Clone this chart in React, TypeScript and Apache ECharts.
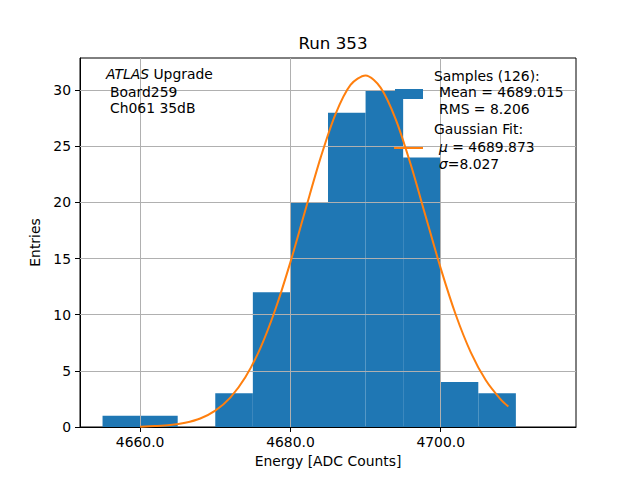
import { useEffect, useRef } from 'react';
import * as echarts from 'echarts';

// histogram bins (left edges, width 5) and entries per bin
const binEdges = [4655, 4660, 4665, 4670, 4675, 4680, 4685, 4690, 4695, 4700, 4705, 4710];
const binCounts = [1, 1, 0, 3, 12, 20, 28, 30, 24, 4, 3];

// gaussian fit curve
const fitX = [
  4660, 4662, 4664, 4666, 4668, 4670, 4672, 4674, 4676, 4678, 4680, 4682, 4684,
  4686, 4688, 4690, 4692, 4694, 4696, 4698, 4700, 4702, 4704, 4706, 4708, 4709,
];
const fitY = [
  0.03, 0.08, 0.17, 0.38, 0.76, 1.46, 2.62, 4.43, 7.03, 10.49, 14.69, 19.36, 23.95,
  27.87, 30.47, 31.31, 30.23, 27.43, 23.4, 18.75, 14.13, 10.0, 6.65, 4.16, 2.44, 1.83,
];

const xTicks = [4660, 4680, 4700];
const yTicks = [0, 5, 10, 15, 20, 25, 30];

const FONT = 'DejaVu Sans';

export default function App() {
  const chartRef = useRef<HTMLDivElement>(null);

  useEffect(() => {
    if (!chartRef.current) return;
    const chart = echarts.init(chartRef.current, null, { renderer: 'svg' });

    const bins = binCounts.map((c, i) => [binEdges[i], binEdges[i + 1], c]);

    const gridLines = [
      ...xTicks.map((v) => ({ xAxis: v })),
      ...yTicks.filter((v) => v > 0).map((v) => ({ yAxis: v })),
    ];

    const option = {
      animation: false,
      textStyle: { fontFamily: FONT },
      title: {
        text: 'Run 353',
        left: 328,
        top: 29,
        textAlign: 'center',
        textStyle: { fontFamily: FONT, fontSize: 16.7, fontWeight: 'normal', color: '#000' },
      },
      grid: {
        left: 80,
        right: 64,
        top: 58,
        bottom: 53,
        show: true,
        borderColor: '#000',
        borderWidth: 1,
        backgroundColor: 'transparent',
      },
      xAxis: {
        type: 'value',
        min: 4652,
        max: 4718,
        name: 'Energy [ADC Counts]',
        nameLocation: 'middle',
        nameGap: 27,
        nameTextStyle: { fontFamily: FONT, fontSize: 13.9, color: '#000' },
        axisLine: { show: true, lineStyle: { color: '#000', width: 1 } },
        axisTick: { show: true, length: 5, customValues: xTicks, lineStyle: { color: '#000' } },
        axisLabel: {
          customValues: xTicks,
          margin: 8,
          fontFamily: FONT,
          fontSize: 13.9,
          color: '#000',
          formatter: (v: number) => v.toFixed(1),
        },
        splitLine: { show: false },
      },
      yAxis: {
        type: 'value',
        min: 0,
        max: 32.87,
        name: 'Entries',
        nameLocation: 'middle',
        nameGap: 28,
        nameTextStyle: { fontFamily: FONT, fontSize: 13.9, color: '#000' },
        axisLine: { show: true, lineStyle: { color: '#000', width: 1 } },
        axisTick: { show: true, length: 5, customValues: yTicks, lineStyle: { color: '#000' } },
        axisLabel: {
          customValues: yTicks,
          margin: 9,
          fontFamily: FONT,
          fontSize: 13.9,
          color: '#000',
        },
        splitLine: { show: false },
      },
      series: [
        {
          name: 'Samples',
          type: 'custom',
          z: 2,
          data: bins,
          encode: { x: [0, 1], y: 2 },
          renderItem: (_params: any, api: any) => {
            const p0 = api.coord([api.value(0), api.value(2)]);
            const p1 = api.coord([api.value(1), 0]);
            return {
              type: 'rect',
              shape: { x: p0[0], y: p0[1], width: p1[0] - p0[0], height: p1[1] - p0[1] },
              style: { fill: '#1f77b4' },
            };
          },
          markLine: {
            silent: true,
            symbol: 'none',
            animation: false,
            label: { show: false },
            lineStyle: { color: '#b0b0b0', width: 1, type: 'solid' },
            emphasis: { disabled: true },
            data: gridLines,
          },
        },
        {
          name: 'Gaussian Fit',
          type: 'line',
          z: 10,
          smooth: 0.3,
          showSymbol: false,
          symbol: 'none',
          lineStyle: { color: '#ff7f0e', width: 2 },
          data: fitX.map((x, i) => [x, fitY[i]]),
        },
      ],
      graphic: [
        // upper-left annotation
        {
          type: 'text',
          left: 106,
          top: 67,
          z: 20,
          style: {
            text: '{i|ATLAS} Upgrade',
            fontFamily: FONT,
            fontSize: 13.9,
            fill: '#000',
            rich: { i: { fontStyle: 'italic', fontFamily: FONT, fontSize: 13.9 } },
          },
        },
        {
          type: 'text',
          left: 110,
          top: 85,
          z: 20,
          style: { text: 'Board259', fontFamily: FONT, fontSize: 13.9, fill: '#000' },
        },
        {
          type: 'text',
          left: 110,
          top: 101,
          z: 20,
          style: { text: 'Ch061 35dB', fontFamily: FONT, fontSize: 13.9, fill: '#000' },
        },
        // legend
        {
          type: 'rect',
          z: 20,
          shape: { x: 395, y: 89, width: 28, height: 10 },
          style: { fill: '#1f77b4' },
        },
        {
          type: 'line',
          z: 20,
          shape: { x1: 394, y1: 148, x2: 423, y2: 148 },
          style: { stroke: '#ff7f0e', lineWidth: 2 },
        },
        ...[
          { t: 'Samples (126):', x: 434, y: 69 },
          { t: 'Mean = 4689.015', x: 439, y: 85 },
          { t: 'RMS = 8.206', x: 439, y: 102 },
          { t: 'Gaussian Fit:', x: 434, y: 122 },
          { t: '{g|μ} = 4689.873', x: 439, y: 140 },
          { t: '{g|σ}=8.027', x: 439, y: 157 },
        ].map((l) => ({
          type: 'text',
          left: l.x,
          top: l.y,
          z: 20,
          style: {
            text: l.t,
            fontFamily: FONT,
            fontSize: 13.9,
            fill: '#000',
            rich: { g: { fontStyle: 'italic', fontFamily: FONT, fontSize: 13.9 } },
          },
        })),
      ],
    };

    chart.setOption(option as any);

    return () => {
      chart.dispose();
    };
  }, []);

  return (
    <div
      ref={chartRef}
      style={{ position: 'absolute', left: 0, top: 0, width: 640, height: 480, background: '#fff' }}
    />
  );
}
